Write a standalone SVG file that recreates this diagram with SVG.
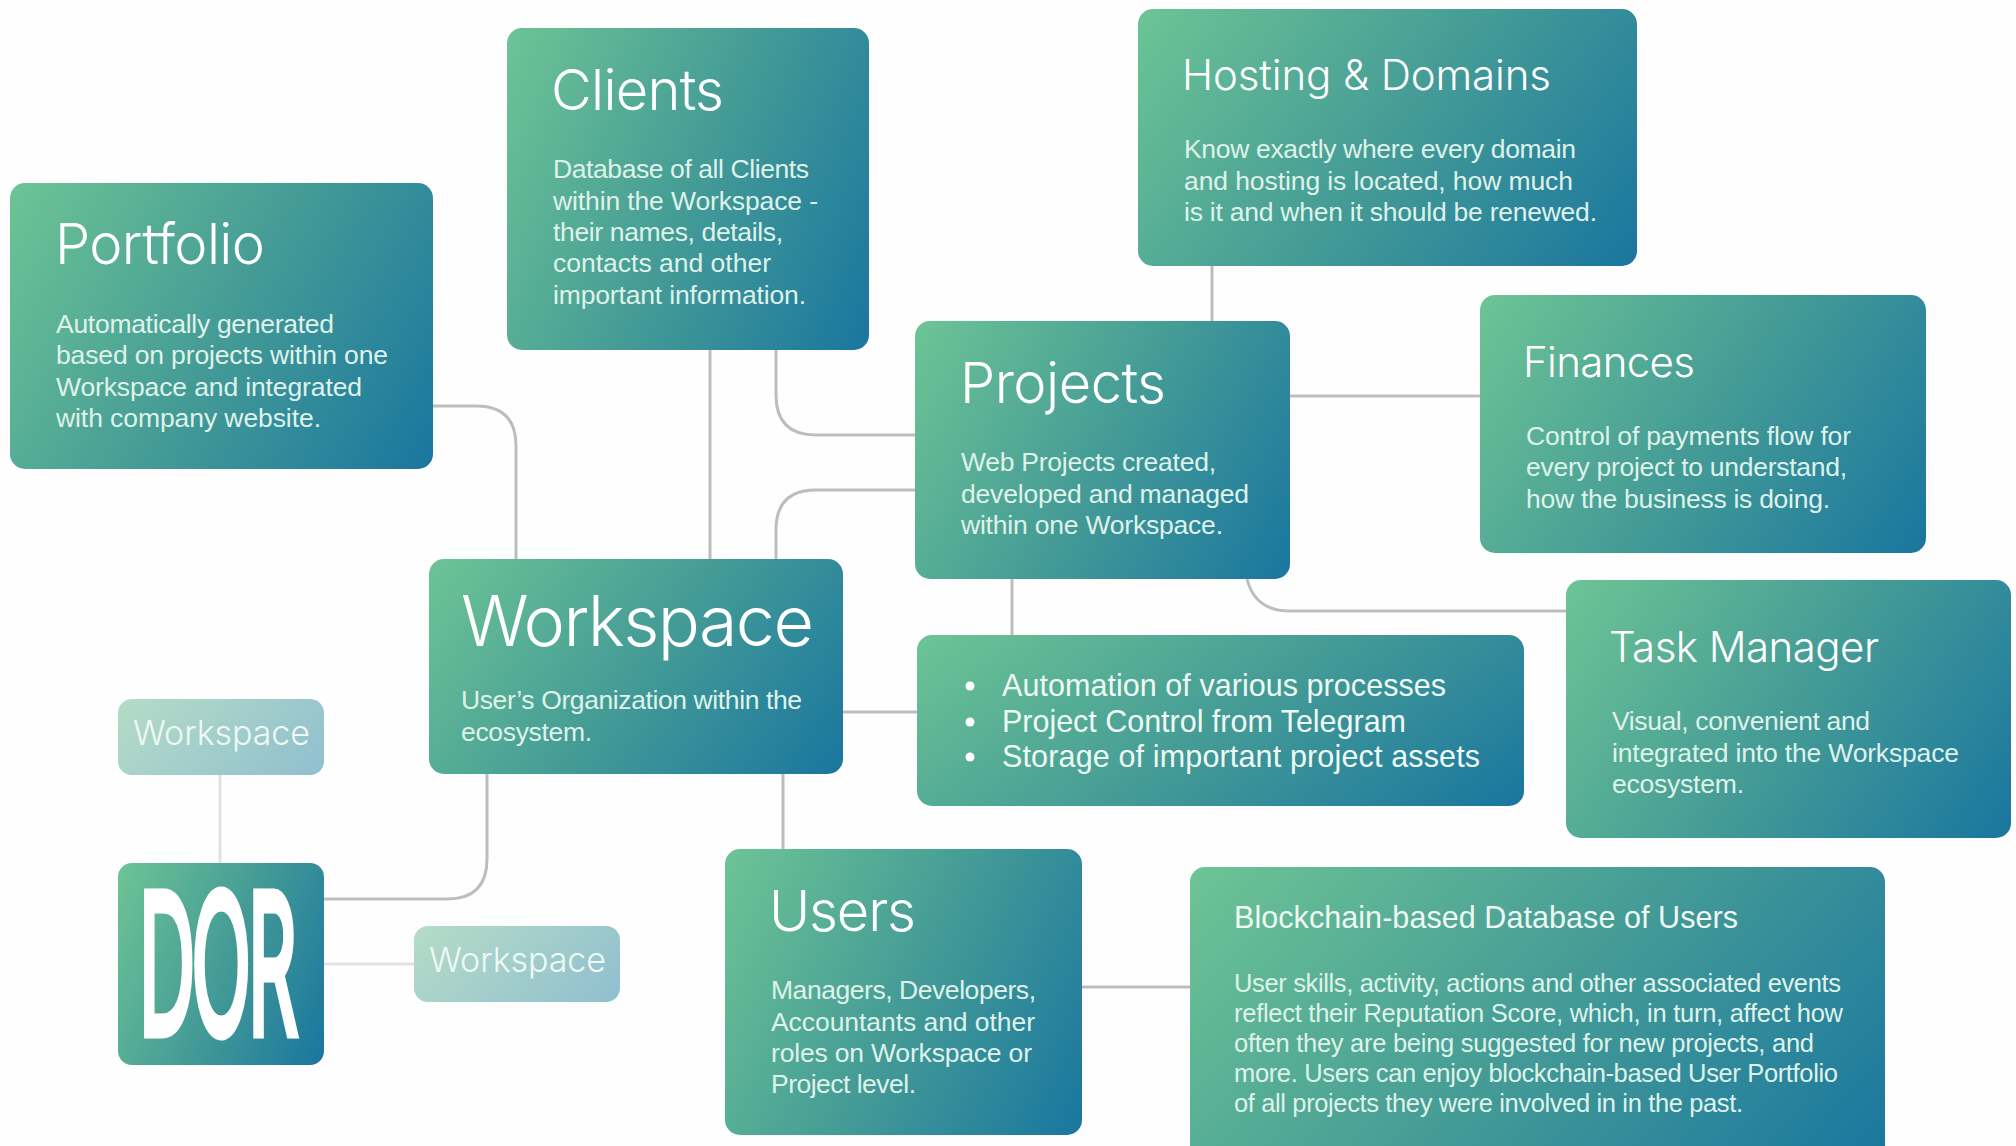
<svg xmlns="http://www.w3.org/2000/svg" width="2016" height="1146" viewBox="0 0 2016 1146">
<defs>
<linearGradient id="g" x1="0" y1="0" x2="1.2" y2="0.47"><stop offset="0" stop-color="#6dc495"/><stop offset="0.5" stop-color="#459c96"/><stop offset="1" stop-color="#1a769f"/></linearGradient>
<linearGradient id="gl" x1="0" y1="0" x2="1.2" y2="0.47"><stop offset="0" stop-color="#b5dcc7"/><stop offset="1" stop-color="#90bfcf"/></linearGradient>
</defs>
<style>
.box{fill:url(#g)}
.lite{fill:url(#gl)}
text{font-family:"Liberation Sans",Arial,sans-serif;fill:#dff2ea}
.b{font-size:26.5px}
.f{font-size:30.5px;fill:#eef9f4}
.s{font-size:25.5px}
.t{font-family:"Inter","Liberation Sans",sans-serif;font-weight:300;font-size:56px;fill:#fff}
.h{font-family:"Inter","Liberation Sans",sans-serif;font-weight:300;font-size:42px;fill:#fff}
.c{fill:none;stroke:#bdbdbd;stroke-width:3}
.cl{fill:none;stroke:#e2e2e2;stroke-width:3}
</style>
<rect width="2016" height="1146" fill="#fefefe"/>
<g id="connectors">
<path class="c" d="M433 406H476Q516 406 516 446V559"/>
<path class="c" d="M710 350V559"/>
<path class="c" d="M776 350V395Q776 435 816 435H915"/>
<path class="c" d="M776 559V530Q776 490 816 490H915"/>
<path class="c" d="M1212 266V321"/>
<path class="c" d="M1290 396H1480"/>
<path class="c" d="M1012 579V635"/>
<path class="c" d="M1247 579Q1255 611 1290 611H1566"/>
<path class="c" d="M843 712H917"/>
<path class="c" d="M783 774V849"/>
<path class="c" d="M324 899H447Q487 899 487 859V774"/>
<path class="c" d="M1082 987H1190"/>
<path class="cl" d="M220 775V863"/>
<path class="cl" d="M324 964H414"/>
</g>
<g id="portfolio"><rect class="box" x="10" y="183" width="423" height="286" rx="15"/>
<text x="55" y="264" class="t" textLength="210">Portfolio</text>
<text x="56" y="333" class="b" textLength="278">Automatically generated</text>
<text x="56" y="364" class="b" textLength="332">based on projects within one</text>
<text x="56" y="396" class="b" textLength="306">Workspace and integrated</text>
<text x="56" y="427" class="b" textLength="265">with company website.</text></g>
<g id="clients"><rect class="box" x="507" y="28" width="362" height="322" rx="15"/>
<text x="551" y="110" class="t" textLength="173">Clients</text>
<text x="553" y="178" class="b" textLength="256">Database of all Clients</text>
<text x="553" y="210" class="b" textLength="265">within the Workspace -</text>
<text x="553" y="241" class="b" textLength="230">their names, details,</text>
<text x="553" y="272" class="b" textLength="218">contacts and other</text>
<text x="553" y="304" class="b" textLength="253">important information.</text></g>
<g id="hosting"><rect class="box" x="1138" y="9" width="499" height="257" rx="15"/>
<text x="1182" y="90" class="h" textLength="369">Hosting &amp; Domains</text>
<text x="1184" y="158" class="b" textLength="392">Know exactly where every domain</text>
<text x="1184" y="190" class="b" textLength="389">and hosting is located, how much</text>
<text x="1184" y="221" class="b" textLength="413">is it and when it should be renewed.</text></g>
<g id="projects"><rect class="box" x="915" y="321" width="375" height="258" rx="15"/>
<text x="960" y="403" class="t" textLength="206">Projects</text>
<text x="961" y="471" class="b" textLength="255">Web Projects created,</text>
<text x="961" y="503" class="b" textLength="288">developed and managed</text>
<text x="961" y="534" class="b" textLength="262">within one Workspace.</text></g>
<g id="finances"><rect class="box" x="1480" y="295" width="446" height="258" rx="15"/>
<text x="1523" y="377" class="h" textLength="172">Finances</text>
<text x="1526" y="445" class="b" textLength="325">Control of payments flow for</text>
<text x="1526" y="476" class="b" textLength="321">every project to understand,</text>
<text x="1526" y="508" class="b" textLength="304">how the business is doing.</text></g>
<g id="task-manager"><rect class="box" x="1566" y="580" width="445" height="258" rx="15"/>
<text x="1609" y="662" class="h" textLength="270">Task Manager</text>
<text x="1612" y="730" class="b" textLength="258">Visual, convenient and</text>
<text x="1612" y="762" class="b" textLength="347">integrated into the Workspace</text>
<text x="1612" y="793" class="b" textLength="132">ecosystem.</text></g>
<g id="workspace"><rect class="box" x="429" y="559" width="414" height="215" rx="15"/>
<text x="461" y="646" class="t" style="font-size:70px" textLength="353">Workspace</text>
<text x="461" y="709" class="b" textLength="341">User’s Organization within the</text>
<text x="461" y="741" class="b" textLength="131">ecosystem.</text></g>
<g id="features"><rect class="box" x="917" y="635" width="607" height="171" rx="15"/>
<circle cx="970" cy="686" r="4.5" fill="#fff"/><circle cx="970" cy="722" r="4.5" fill="#fff"/><circle cx="970" cy="757" r="4.5" fill="#fff"/>
<text x="1002" y="696" class="f" textLength="444">Automation of various processes</text>
<text x="1002" y="732" class="f" textLength="404">Project Control from Telegram</text>
<text x="1002" y="767" class="f" textLength="478">Storage of important project assets</text></g>
<g id="users"><rect class="box" x="725" y="849" width="357" height="286" rx="15"/>
<text x="769" y="931" class="t" textLength="147">Users</text>
<text x="771" y="999" class="b" textLength="265">Managers, Developers,</text>
<text x="771" y="1031" class="b" textLength="264">Accountants and other</text>
<text x="771" y="1062" class="b" textLength="261">roles on Workspace or</text>
<text x="771" y="1093" class="b" textLength="145">Project level.</text></g>
<g id="blockchain"><rect class="box" x="1190" y="867" width="695" height="300" rx="15"/>
<text x="1234" y="928" class="f" textLength="504">Blockchain-based Database of Users</text>
<text x="1234" y="992" class="s" textLength="607">User skills, activity, actions and other associated events</text>
<text x="1234" y="1022" class="s" textLength="609">reflect their Reputation Score, which, in turn, affect how</text>
<text x="1234" y="1052" class="s" textLength="580">often they are being suggested for new projects, and</text>
<text x="1234" y="1082" class="s" textLength="604">more. Users can enjoy blockchain-based User Portfolio</text>
<text x="1234" y="1112" class="s" textLength="509">of all projects they were involved in in the past.</text></g>
<g id="dor"><rect class="box" x="118" y="863" width="206" height="202" rx="14"/>
<text transform="translate(140 1028) scale(.42 1)" style="font-family:'Inter',sans-serif;font-size:178px;font-weight:100;fill:#fff;stroke:#fff;stroke-width:16;vector-effect:non-scaling-stroke">DOR</text></g>
<g id="workspace-small-1"><rect class="lite" x="118" y="699" width="206" height="76" rx="14"/>
<text x="133" y="745" class="t" style="font-size:34px;fill:#eefaf4" textLength="177">Workspace</text></g>
<g id="workspace-small-2"><rect class="lite" x="414" y="926" width="206" height="76" rx="14"/>
<text x="429" y="972" class="t" style="font-size:34px;fill:#eefaf4" textLength="177">Workspace</text></g>
</svg>
